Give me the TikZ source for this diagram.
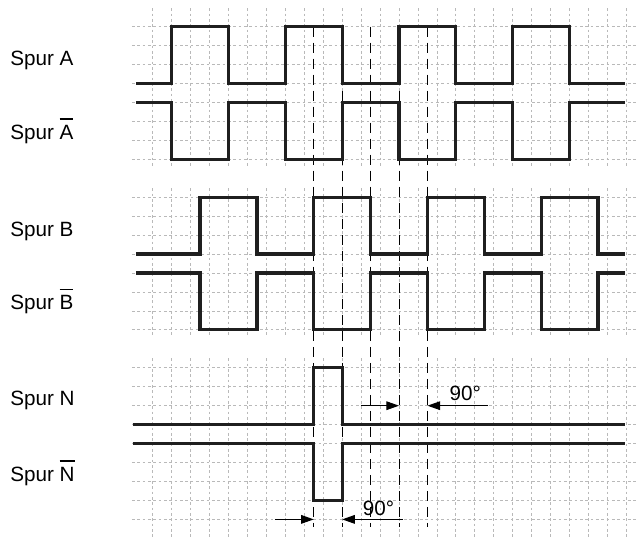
\documentclass[tikz,border=0pt]{standalone}
\usepackage{fontspec}
\setmainfont{Liberation Sans}
\usetikzlibrary{arrows.meta}
\newcommand{\spurbar}[1]{\setbox0\hbox{#1}\rlap{\raisebox{\dimexpr\ht0+4.2pt\relax}{\rule{\wd0}{1.1pt}}}\box0}
\begin{document}
\begin{tikzpicture}[
    x=14.21pt, y=-14.21pt,
    raster/.style={gray!55, line width=0.6pt, dash pattern=on 2pt off 2pt},
    signal/.style={black!88, line width=2.4pt},
    marke/.style={black, line width=0.8pt, dash pattern=on 7.5pt off 4.5pt},
    pfeil/.style={-{Triangle[length=9.5pt,width=6.5pt]}, black, line width=0.8pt},
    spur/.style={anchor=base west, inner sep=0pt, font=\fontsize{15.5}{18}\selectfont},
    winkel/.style={anchor=base west, inner sep=0pt, font=\fontsize{15.5}{18}\selectfont}
]
    \useasboundingbox (-8.058,-1.409) rectangle (25.61,26.98);

    % Raster
    \foreach \r in {0,...,7,9,10,...,16,18,19,...,26}
        \draw[raster] (-1.1,\r) -- (25.6,\r);
    \foreach \k in {0,...,25} {
        \draw[raster] (\k,-0.97) -- (\k,7.4);
        \draw[raster] (\k,8.53) -- (\k,16.4);
        \draw[raster] (\k,17.5) -- (\k,27);
    }

    % Hilfslinien
    \foreach \k in {8.5,10,11.5,13,14.5}
        \draw[marke] (\k,0) -- (\k,26.4);

    % Spur A
    \draw[signal] (-0.88,3) -- (1,3) -- (1,0) -- (4,0) -- (4,3) -- (7,3) -- (7,0) -- (10,0) -- (10,3) -- (13,3) -- (13,0) -- (16,0) -- (16,3) -- (19,3) -- (19,0) -- (22,0) -- (22,3) -- (24.92,3);
    \draw[signal] (-0.88,4) -- (1,4) -- (1,7) -- (4,7) -- (4,4) -- (7,4) -- (7,7) -- (10,7) -- (10,4) -- (13,4) -- (13,7) -- (16,7) -- (16,4) -- (19,4) -- (19,7) -- (22,7) -- (22,4) -- (24.92,4);

    % Spur B
    \draw[signal] (-0.88,12) -- (2.5,12) -- (2.5,9) -- (5.5,9) -- (5.5,12) -- (8.5,12) -- (8.5,9) -- (11.5,9) -- (11.5,12) -- (14.5,12) -- (14.5,9) -- (17.5,9) -- (17.5,12) -- (20.5,12) -- (20.5,9) -- (23.5,9) -- (23.5,12) -- (24.92,12);
    \draw[signal] (-0.88,13) -- (2.5,13) -- (2.5,16) -- (5.5,16) -- (5.5,13) -- (8.5,13) -- (8.5,16) -- (11.5,16) -- (11.5,13) -- (14.5,13) -- (14.5,16) -- (17.5,16) -- (17.5,13) -- (20.5,13) -- (20.5,16) -- (23.5,16) -- (23.5,13) -- (24.92,13);

    % Spur N
    \draw[signal] (-1.06,21) -- (8.5,21) -- (8.5,18) -- (10,18) -- (10,21) -- (24.92,21);
    \draw[signal] (-1.06,22) -- (8.5,22) -- (8.5,25) -- (10,25) -- (10,22) -- (24.92,22);

    % Beschriftung
    \node[spur] (lblA) at (-7.53,2.05) {Spur A};
    \node[spur] (lblAn) at (-7.53,5.95) {Spur \spurbar{A}};
    \node[spur] (lblB) at (-7.53,11.05) {Spur B};
    \node[spur] (lblBn) at (-7.53,14.95) {Spur \spurbar{B}};
    \node[spur] (lblN) at (-7.53,20) {Spur N};
    \node[spur] (lblNn) at (-7.53,24) {Spur \spurbar{N}};

    % 90 Grad oben
    \coordinate (o1) at (10.98,20);
    \coordinate (o2) at (13,20);
    \coordinate (o3) at (17.7,20);
    \coordinate (o4) at (14.5,20);
    \draw[pfeil] (o1) -- (o2);
    \draw[pfeil] (o3) -- (o4);
    \node[winkel] (wo) at (15.65,19.74) {90°};

    % 90 Grad unten
    \coordinate (u1) at (6.45,26);
    \coordinate (u2) at (8.5,26);
    \coordinate (u3) at (13.2,26);
    \coordinate (u4) at (10,26);
    \draw[pfeil] (u1) -- (u2);
    \draw[pfeil] (u3) -- (u4);
    \node[winkel] (wu) at (11.08,25.77) {90°};
\end{tikzpicture}
\end{document}
